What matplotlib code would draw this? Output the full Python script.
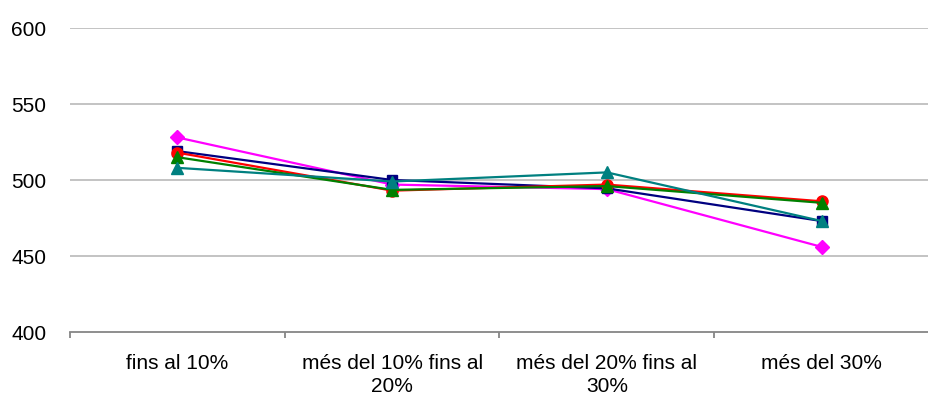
import matplotlib.pyplot as plt

# categories and the five series
categories = ["fins al 10%", "més del 10% fins al\n20%",
              "més del 20% fins al\n30%", "més del 30%"]
magenta_vals = [528, 497, 494, 456]
navy_vals = [519, 500, 494.5, 473]
red_vals = [518, 493, 497, 486]
green_vals = [515, 493.5, 496, 485]
teal_vals = [508, 499, 505, 473]

yticks = [400, 450, 500, 550, 600]

plt.rcParams['font.family'] = ['Liberation Sans', 'DejaVu Sans']

fig = plt.figure(figsize=(9.29, 3.98), dpi=100)
ax = fig.add_axes([70 / 929, 1 - 332 / 398, 1 - 70 / 929, (332 - 28) / 398])

x = list(range(len(categories)))
ax.plot(x, magenta_vals, color='#FF00FF', marker='D', markersize=7, linewidth=1.6)
ax.plot(x, navy_vals, color='#000080', marker='s', markersize=7, linewidth=1.6)
ax.plot(x, red_vals, color='#FF0000', marker='o', markersize=8, linewidth=1.6)
ax.plot(x, green_vals, color='#008000', marker='^', markersize=8, linewidth=1.6)
ax.plot(x, teal_vals, color='#008080', marker='^', markersize=8, linewidth=1.6)

ax.set_xlim(-0.5, len(categories) - 0.5)
ax.set_ylim(400, 600)
ax.set_yticks(yticks)
for v in yticks[1:]:
    ax.axhline(v, color='#BEBEBE', linewidth=1.3, zorder=0)

for s in ['top', 'right', 'left']:
    ax.spines[s].set_visible(False)
ax.spines['bottom'].set_color('#868686')
ax.spines['bottom'].set_linewidth(1.3)

ax.set_xticks(x)
ax.set_xticklabels(categories, fontsize=15, linespacing=1.25)
ax.set_xticks([i - 0.5 for i in range(len(categories) + 1)], minor=True)
ax.tick_params(axis='x', which='major', length=0, pad=16)
ax.tick_params(axis='x', which='minor', length=4, color='#868686', width=1.3)
ax.tick_params(axis='y', length=0, pad=17, labelsize=15)

fig.savefig('out.png', dpi=100)
